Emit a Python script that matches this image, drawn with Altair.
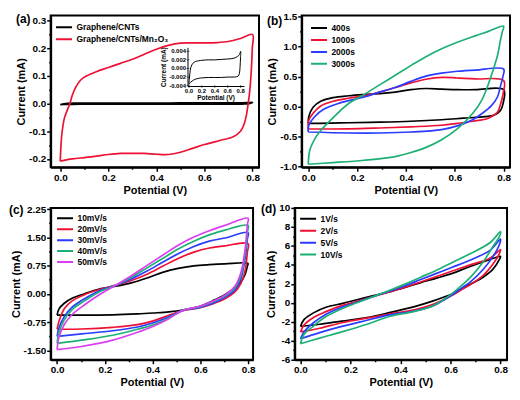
import altair as alt
import pandas as pd

FONT = "Liberation Sans"
BLACK, RED, BLUE, GREEN, MAGENTA = "#000000", "#EE1133", "#2B3BFF", "#1DB074", "#DA3EF2"

# ---------------- panel (a) ----------------
A_NAMES = ["Graphene/CNTs", "Graphene/CNTs/Mn₂O₃"]
A_GC_V = [0, 0.005, 0.015, 0.03, 0.06, 0.1, 0.2, 0.3, 0.4, 0.5, 0.6, 0.7, 0.75, 0.78, 0.8,
          0.798, 0.79, 0.78, 0.76, 0.7, 0.6, 0.5, 0.4, 0.3, 0.2, 0.15, 0.1, 0.05, 0.02, 0]
A_GC_I = [-0.0037, -0.0025, -0.001, 0.0003, 0.0012, 0.0016, 0.0019, 0.002, 0.002, 0.0021, 0.0022, 0.0024, 0.0028, 0.0032, 0.004,
          0.0025, 0.0002, -0.0012, -0.0018, -0.002, -0.002, -0.0021, -0.0021, -0.0021, -0.0022, -0.0023, -0.0025, -0.0029, -0.0033, -0.0037]
A_MN_V = [0, 0.003, 0.008, 0.018, 0.04, 0.05, 0.065, 0.085, 0.11, 0.15, 0.2, 0.25, 0.3, 0.35, 0.4, 0.45, 0.5, 0.55, 0.6, 0.65, 0.7, 0.75, 0.8,
          0.799, 0.795, 0.789, 0.782, 0.775, 0.765, 0.75, 0.72, 0.68, 0.6, 0.55, 0.5, 0.45, 0.4, 0.35, 0.3, 0.25, 0.2, 0.15, 0.1, 0.05, 0.0]
A_MN_I = [-0.208, -0.15, -0.1, -0.05, 0.0, 0.03, 0.06, 0.085, 0.1, 0.115, 0.13, 0.145, 0.16, 0.178, 0.196, 0.21, 0.218, 0.219, 0.219, 0.22, 0.224, 0.235, 0.249,
          0.2, 0.12, 0.05, 0.0, -0.04, -0.075, -0.1, -0.12, -0.13, -0.148, -0.162, -0.176, -0.184, -0.183, -0.18, -0.18, -0.18, -0.184, -0.19, -0.195, -0.2, -0.208]
INSET_XTICKS = [0.0, 0.2, 0.4, 0.6, 0.8]
INSET_XLABELS = ["0.0", "0.2", "0.4", "0.6", "0.8"]
INSET_YTICKS = [-0.004, -0.002, 0.0, 0.002, 0.004]
INSET_YLABELS = ["-0.004", "-0.002", "0.000", "0.002", "0.004"]

# ---------------- panel (b) ----------------
B_NAMES = ["400s", "1000s", "2000s", "3000s"]
B_400_V = [0, 0.002, 0.019, 0.051, 0.101, 0.165, 0.229, 0.292, 0.356, 0.42, 0.482, 0.546, 0.61, 0.686, 0.8,
           0.797, 0.787, 0.762, 0.724, 0.635, 0.546, 0.42, 0.292, 0.165, 0.051, 0]
B_400_I = [-0.28, -0.17, -0.015, 0.087, 0.148, 0.179, 0.199, 0.214, 0.24, 0.28, 0.3, 0.29, 0.28, 0.28, 0.28,
           0.04, -0.066, -0.14, -0.168, -0.194, -0.22, -0.245, -0.26, -0.27, -0.28, -0.28]
B_1000_V = [0, 0.001, 0.019, 0.051, 0.101, 0.165, 0.229, 0.292, 0.356, 0.42, 0.482, 0.546, 0.61, 0.686, 0.8,
            0.797, 0.787, 0.775, 0.737, 0.673, 0.61, 0.546, 0.42, 0.292, 0.165, 0]
B_1000_I = [-0.372, -0.24, -0.117, 0.01, 0.087, 0.138, 0.179, 0.24, 0.316, 0.393, 0.454, 0.485, 0.475, 0.459, 0.43,
            0.2, 0.036, -0.092, -0.194, -0.245, -0.28, -0.311, -0.337, -0.357, -0.372, -0.372]
B_2000_V = [0, 0.001, 0.025, 0.063, 0.127, 0.229, 0.292, 0.356, 0.42, 0.482, 0.546, 0.61, 0.686, 0.8,
            0.797, 0.787, 0.775, 0.749, 0.711, 0.673, 0.61, 0.546, 0.42, 0.292, 0.165, 0]
B_2000_I = [-0.424, -0.33, -0.174, -0.046, 0.056, 0.158, 0.24, 0.316, 0.418, 0.505, 0.556, 0.587, 0.607, 0.622,
            0.5, 0.34, 0.163, 0.01, -0.117, -0.219, -0.321, -0.383, -0.424, -0.44, -0.44, -0.424]
B_3000_V = [0, 0.006, 0.025, 0.051, 0.101, 0.165, 0.229, 0.292, 0.356, 0.42, 0.482, 0.546, 0.61, 0.686, 0.737, 0.8,
            0.795, 0.787, 0.775, 0.756, 0.737, 0.711, 0.673, 0.61, 0.546, 0.482, 0.42, 0.356, 0.229, 0.101, 0]
B_3000_I = [-0.96, -0.73, -0.55, -0.40, -0.19, 0.05, 0.2, 0.36, 0.52, 0.68, 0.83, 0.96, 1.07, 1.18, 1.25, 1.337,
            1.25, 1.107, 0.852, 0.597, 0.367, 0.112, -0.117, -0.372, -0.551, -0.679, -0.765, -0.832, -0.893, -0.933, -0.96]

# ---------------- panel (c) ----------------
C_NAMES = ["10mV/s", "20mV/s", "30mV/s", "40mV/s", "50mV/s"]
C_FWD_V = [0, 0.008, 0.03, 0.063, 0.115, 0.18, 0.246, 0.311, 0.377, 0.442, 0.507, 0.573, 0.638, 0.703, 0.8]
C_REV_V = [0.797, 0.788, 0.77, 0.745, 0.703, 0.651, 0.599, 0.527, 0.468, 0.403, 0.337, 0.233, 0.102, 0]
C_10_I = [-0.564, -0.40, -0.25, -0.12, 0.0, 0.13, 0.2, 0.29, 0.42, 0.57, 0.675, 0.74, 0.773, 0.795, 0.805,
          0.73, 0.52, 0.31, 0.165, -0.021, -0.188, -0.33, -0.43, -0.48, -0.51, -0.535, -0.56, -0.564, -0.564]
C_20_I = [-0.94, -0.73, -0.398, -0.188, -0.021, 0.12, 0.229, 0.354, 0.521, 0.73, 0.939, 1.106, 1.215, 1.273, 1.332,
          1.1, 0.62, 0.28, 0.05, -0.13, -0.27, -0.37, -0.45, -0.57, -0.72, -0.82, -0.89, -0.935, -0.94]
C_30_I = [-1.13, -0.90, -0.606, -0.356, -0.13, 0.087, 0.229, 0.396, 0.605, 0.839, 1.064, 1.257, 1.399, 1.482, 1.623,
          1.45, 0.95, 0.40, 0.10, -0.09, -0.25, -0.36, -0.44, -0.61, -0.77, -0.88, -0.98, -1.065, -1.13]
C_40_I = [-1.316, -1.02, -0.69, -0.42, -0.188, 0.062, 0.229, 0.438, 0.689, 0.939, 1.19, 1.398, 1.565, 1.69, 1.816,
          1.62, 1.07, 0.48, 0.16, -0.06, -0.22, -0.34, -0.44, -0.64, -0.82, -0.94, -1.10, -1.23, -1.316]
C_50_I = [-1.483, -1.148, -0.815, -0.55, -0.29, -0.01, 0.229, 0.48, 0.756, 1.023, 1.29, 1.507, 1.674, 1.816, 2.008,
          1.83, 1.2, 0.56, 0.2, -0.04, -0.20, -0.33, -0.44, -0.66, -0.86, -1.02, -1.23, -1.40, -1.483]

# ---------------- panel (d) ----------------
D_NAMES = ["1V/s", "2V/s", "5V/s", "10V/s"]
D_FWD_V = [0, 0.014, 0.052, 0.102, 0.165, 0.21, 0.292, 0.355, 0.418, 0.481, 0.544, 0.607, 0.67, 0.759, 0.8]
D_REV_V = [0.796, 0.77, 0.733, 0.683, 0.645, 0.607, 0.531, 0.456, 0.355, 0.266, 0.165, 0.077, 0]
D_1_I = [-2.49, -1.77, -1.06, -0.47, -0.08, 0.22, 0.75, 1.15, 1.62, 2.13, 2.6, 3.10, 3.75, 4.57, 4.89,
         4.6, 3.55, 2.75, 2.0, 1.5, 0.95, 0.2, -0.4, -1.04, -1.55, -1.93, -2.26, -2.49]
D_2_I = [-3.07, -2.35, -1.55, -0.93, -0.3, 0.02, 0.67, 1.15, 1.64, 2.2, 2.78, 3.35, 3.92, 4.73, 5.61,
         5.22, 4.08, 2.94, 1.97, 1.4, 0.8, -0.15, -0.73, -1.19, -1.61, -2.1, -2.68, -3.07]
D_5_I = [-3.79, -3.07, -2.1, -1.2, -0.47, -0.08, 0.67, 1.23, 1.8, 2.45, 3.1, 3.75, 4.41, 5.55, 6.72,
         6.18, 4.89, 3.59, 2.29, 1.55, 0.85, -0.31, -0.86, -1.28, -1.84, -2.49, -3.14, -3.79]
D_10_I = [-4.31, -3.35, -2.45, -1.45, -0.63, -0.15, 0.67, 1.3, 1.97, 2.7, 3.43, 4.25, 5.06, 6.36, 7.5,
          7.0, 5.95, 4.41, 2.78, 1.85, 1.0, -0.31, -0.9, -1.45, -2.26, -3.07, -3.72, -4.31]

# axis tick values (major + minor)
X_TICKS = [round(0.1 * k, 2) for k in range(9)]
A_Y_TICKS = [round(-0.2 + 0.05 * k, 3) for k in range(11)]
B_Y_TICKS = [round(-1.0 + 0.25 * k, 3) for k in range(11)]
C_Y_TICKS = [round(-1.5 + 0.375 * k, 4) for k in range(11)]
D_Y_TICKS = [-6 + k for k in range(17)]


def frame(names, vlists, ilists):
    rows = []
    for name, vs, is_ in zip(names, vlists, ilists):
        for k, (v, i) in enumerate(zip(vs, is_)):
            rows.append({"series": name, "V": v, "I": i, "k": k})
    return pd.DataFrame(rows)


def axis(title, values, step, fmt):
    test = f"abs(datum.value/{step} - round(datum.value/{step})) < 0.001"
    return alt.Axis(
        title=title, values=values, grid=False, labelOverlap=False, labelFlush=False,
        labelExpr=f"({test}) ? replace(format(datum.value, '{fmt}'), '\u2212', '-') : ''",
        tickSize={"condition": {"test": test, "value": 4}, "value": 2},
    )


def panel(df, names, colors, xdom, ydom, yvals, ystep, yfmt, tag, tagx, tagy,
          legx, legy, rowh, w, h, extra=()):
    xenc = alt.X("V:Q", scale=alt.Scale(domain=xdom, nice=False, zero=False),
                 axis=axis("Potential (V)", X_TICKS, 0.2, ".1f"))
    yenc = alt.Y("I:Q", scale=alt.Scale(domain=ydom, nice=False, zero=False),
                 axis=axis("Current (mA)", yvals, ystep, yfmt))
    lines = alt.Chart(df).mark_line(strokeWidth=1.7, interpolate="catmull-rom", clip=True).encode(
        x=xenc, y=yenc,
        color=alt.Color("series:N", scale=alt.Scale(domain=names, range=colors),
                        legend=alt.Legend(title=None, orient="none", legendX=legx, legendY=legy,
                                          symbolType="stroke", symbolSize=260, symbolStrokeWidth=2,
                                          labelFont=FONT, labelFontSize=8.5, labelFontWeight="bold",
                                          clipHeight=rowh, rowPadding=0, labelOffset=3, padding=0)),
        order="k:Q",
    )
    label = alt.Chart(pd.DataFrame({"t": [tag]})).mark_text(
        align="left", baseline="middle", fontSize=12, fontWeight="bold", font=FONT, color="black"
    ).encode(text="t:N", x=alt.value(tagx), y=alt.value(tagy))
    layers = [lines] + [f(xenc, yenc) for f in extra] + [label]
    return alt.layer(*layers).properties(width=w, height=h)


# inset placement (inset coords -> main panel coords)
IX0, IXS, IY0, IYS = 0.5355, 0.2689, 0.12665, 15.51


def to_main(ch, extra2=False):
    ch = ch.transform_calculate(V=f"{IX0} + {IXS} * datum.vi", I=f"{IY0} + {IYS} * datum.ii")
    if extra2:
        ch = ch.transform_calculate(V2=f"{IX0} + {IXS} * datum.vi2", I2=f"{IY0} + {IYS} * datum.ii2")
    return ch


def inset_curve(xenc, yenc):
    d = pd.DataFrame({"vi": A_GC_V, "ii": A_GC_I, "k": range(len(A_GC_V))})
    return to_main(alt.Chart(d)).mark_line(color="black", strokeWidth=1, interpolate="catmull-rom").encode(
        x=xenc, y=yenc, order="k:Q")


def inset_axes(xenc, yenc):
    d = pd.DataFrame({"vi": [-0.015, -0.015], "ii": [-0.0042, -0.0042],
                      "vi2": [-0.015, 0.86], "ii2": [0.0048, -0.0042]})
    return to_main(alt.Chart(d), True).mark_rule(color="black", strokeWidth=1).encode(
        x=xenc, y=yenc, x2="V2:Q", y2="I2:Q")


def inset_xticks(xenc, yenc):
    d = pd.DataFrame({"vi": INSET_XTICKS, "ii": [-0.0042] * 5, "lab": INSET_XLABELS})
    base = to_main(alt.Chart(d))
    t = base.mark_tick(orient="vertical", size=3, thickness=0.8, color="black").encode(x=xenc, y=yenc)
    l = base.mark_text(baseline="top", dy=2, fontSize=6, fontWeight="bold", font=FONT, color="black").encode(
        x=xenc, y=yenc, text="lab:N")
    return alt.layer(t, l)


def inset_yticks(xenc, yenc):
    d = pd.DataFrame({"vi": [-0.015] * 5, "ii": INSET_YTICKS, "lab": INSET_YLABELS})
    base = to_main(alt.Chart(d))
    t = base.mark_tick(orient="horizontal", size=3, thickness=0.8, color="black").encode(x=xenc, y=yenc)
    l = base.mark_text(align="right", baseline="middle", dx=-2, fontSize=6, fontWeight="bold", font=FONT,
                       color="black").encode(x=xenc, y=yenc, text="lab:N")
    return alt.layer(t, l)


def inset_titles(xenc, yenc):
    d1 = pd.DataFrame({"vi": [0.42], "ii": [-0.0042], "lab": ["Potential (V)"]})
    d2 = pd.DataFrame({"vi": [-0.015], "ii": [0.0003], "lab": ["Current (mA)"]})
    t1 = to_main(alt.Chart(d1)).mark_text(baseline="top", dy=9, fontSize=6.5, fontWeight="bold", font=FONT,
                                          color="black").encode(x=xenc, y=yenc, text="lab:N")
    t2 = to_main(alt.Chart(d2)).mark_text(angle=270, baseline="bottom", dx=0, dy=-21, fontSize=6.5,
                                          fontWeight="bold", font=FONT, color="black").encode(
        x=xenc, y=yenc, text="lab:N")
    return alt.layer(t1, t2)


H = 153
A = panel(frame(A_NAMES, [A_GC_V, A_MN_V], [A_GC_I, A_MN_I]), A_NAMES, [BLACK, RED],
          [-0.04, 0.827], [-0.23, 0.318], A_Y_TICKS, 0.1, ".1f", "(a)", -35, 4, 4, 6, 12,
          210, H, extra=(inset_curve, inset_axes, inset_xticks, inset_yticks, inset_titles))
B = panel(frame(B_NAMES, [B_400_V, B_1000_V, B_2000_V, B_3000_V], [B_400_I, B_1000_I, B_2000_I, B_3000_I]),
          B_NAMES, [BLACK, RED, BLUE, GREEN], [-0.027, 0.826], [-1.01, 1.515], B_Y_TICKS, 0.5, ".1f",
          "(b)", -35, 6, 8, 7, 11.5, 210, H)
C = panel(frame(C_NAMES, [C_FWD_V + C_REV_V] * 5, [C_10_I, C_20_I, C_30_I, C_40_I, C_50_I]),
          C_NAMES, [BLACK, RED, BLUE, GREEN, MAGENTA], [-0.027, 0.821], [-1.75, 2.28], C_Y_TICKS, 0.75, ".2f",
          "(c)", -42, 2, 5, 5, 11, 204, H)
D = panel(frame(D_NAMES, [D_FWD_V + D_REV_V] * 4, [D_1_I, D_2_I, D_5_I, D_10_I]),
          D_NAMES, [BLACK, RED, BLUE, GREEN], [-0.023, 0.826], [-6, 10], D_Y_TICKS, 2, "d",
          "(d)", -34, 1, 4, 5, 12, 214, H)

row1 = alt.hconcat(A, B, spacing=4).resolve_scale(color="independent", x="independent", y="independent")
row2 = alt.hconcat(C, D, spacing=4).resolve_scale(color="independent", x="independent", y="independent")
chart = alt.vconcat(row1, row2, spacing=6).resolve_scale(
    color="independent", x="independent", y="independent"
).properties(padding={"left": 0, "top": 0, "right": 0, "bottom": 0}).configure(font=FONT).configure_axis(
    labelFont=FONT, labelFontSize=10, labelFontWeight="bold", labelColor="black", labelPadding=1,
    titleFont=FONT, titleFontSize=11, titleFontWeight="bold", titleColor="black", titlePadding=2,
    domainColor="black", domainWidth=2, tickColor="black", tickWidth=1.5,
).configure_view(stroke="black", strokeWidth=2)

chart.save("out.html", embed_options={"renderer": "svg", "actions": False})
